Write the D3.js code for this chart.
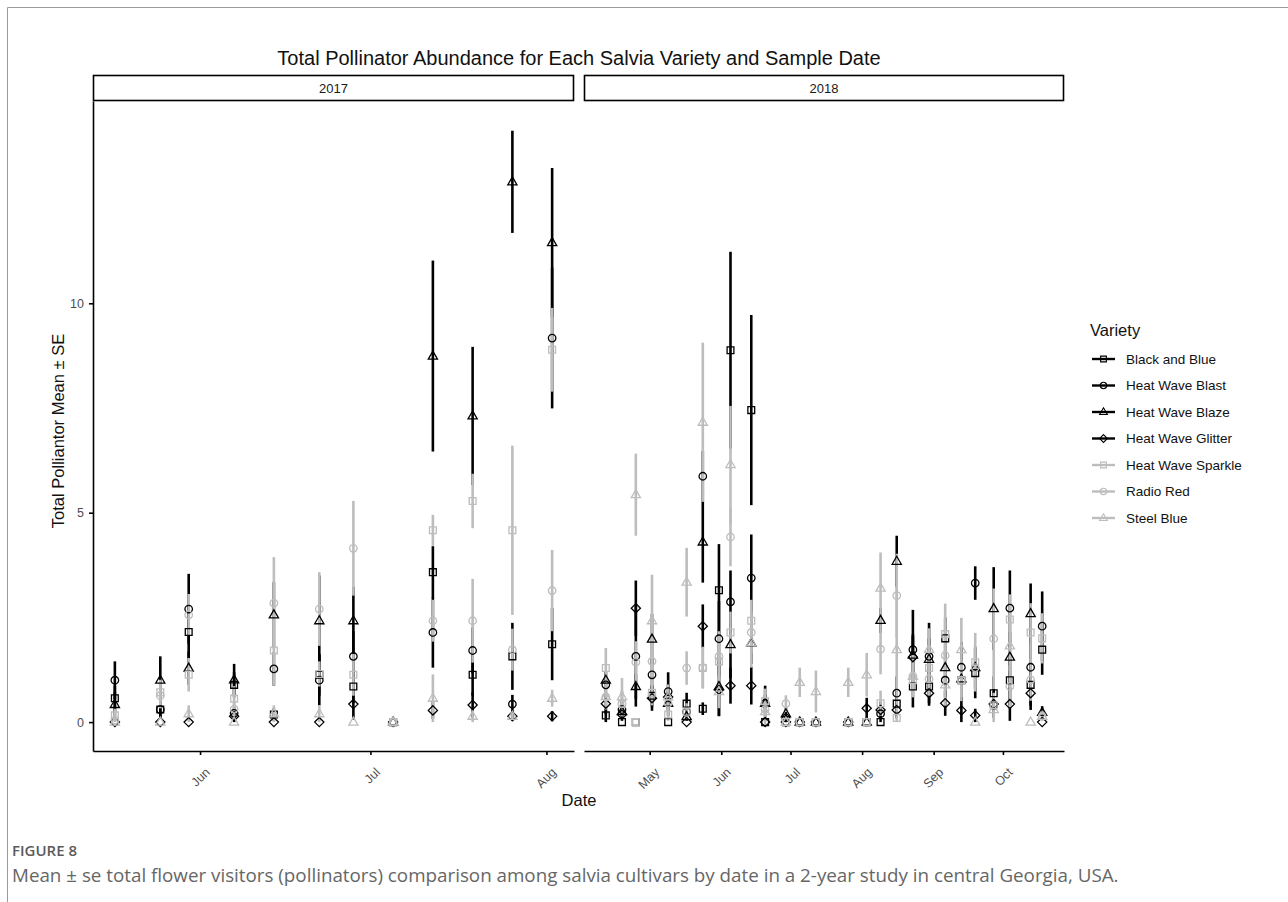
<!DOCTYPE html>
<html>
<head>
<meta charset="utf-8">
<script src="https://cdn.jsdelivr.net/npm/d3@7"></script>
<style>
  body { margin: 0; background: #fff; }
  text { font-family: "Liberation Sans", Arial, sans-serif; }
</style>
</head>
<body>
<svg width="1288" height="902"></svg>
<script>
// ---- data ----
var varieties = ["Black and Blue", "Heat Wave Blast", "Heat Wave Blaze", "Heat Wave Glitter",
                 "Heat Wave Sparkle", "Radio Red", "Steel Blue"];

var dates2017 = ["2017-05-17", "2017-05-25", "2017-05-30", "2017-06-07", "2017-06-14", "2017-06-22",
                 "2017-06-28", "2017-07-05", "2017-07-12", "2017-07-19", "2017-07-26", "2017-08-02"];
var dates2018 = ["2018-04-12", "2018-04-19", "2018-04-25", "2018-05-02", "2018-05-09", "2018-05-17",
                 "2018-05-24", "2018-05-31", "2018-06-05", "2018-06-14", "2018-06-20", "2018-06-29",
                 "2018-07-05", "2018-07-12", "2018-07-26", "2018-08-03", "2018-08-09", "2018-08-16",
                 "2018-08-23", "2018-08-30", "2018-09-06", "2018-09-13", "2018-09-19", "2018-09-27",
                 "2018-10-04", "2018-10-13", "2018-10-18"];

// means: 12 values for 2017 then 27 for 2018
var meanBlackAndBlue = [0.57, 0.30, 2.15, 0.89, 0.18, 1.13, 0.85, 0, 3.58, 1.13, 1.57, 1.86,
  0.16, 0, 0, 0.63, 0, 0.44, 0.32, 3.15, 8.88, 7.45, 0, 0, 0, 0, 0, 0, 0, 0.44, 0.85, 0.85, 2.0, 1.0, 1.17, 0.69, 1.0, 0.89, 1.73];
var seBlackAndBlue = [0.30, 0.20, 0.62, 0.30, 0.15, 0.50, 0.40, 0, 0.62, 0.50, 0.80, 0.86,
  0.16, 0, 0, 0.26, 0, 0.26, 0.15, 1.10, 2.35, 2.27, 0, 0, 0, 0, 0, 0, 0, 0.30, 0.50, 0.40, 0.50, 0.50, 0.60, 0.40, 0.60, 0.50, 0.60];

var meanHeatWaveBlast = [1.0, 0.30, 2.70, 0.21, 1.27, 1.0, 1.57, 0, 2.14, 1.71, 0.43, 9.17,
  0.89, 0.30, 1.57, 1.13, 0.73, 0.25, 5.87, 1.99, 2.87, 3.44, 0.45, 0.10, 0, 0, 0, 0, 0.20, 0.69, 1.73, 1.57, 1.0, 1.31, 3.32, 0.40, 2.72, 1.31, 2.29];
var seHeatWaveBlast = [0.45, 0.20, 0.84, 0.15, 0.40, 0.60, 0.60, 0, 0.84, 0.55, 0.22, 1.68,
  0.30, 0.20, 1.20, 0.40, 0.46, 0.20, 0.60, 0.90, 0.75, 1.04, 0.42, 0.10, 0, 0, 0, 0, 0.20, 0.40, 0.95, 0.80, 0.40, 0.60, 0.40, 0.30, 0.90, 0.70, 0.83];

var meanHeatWaveBlaze = [0.42, 1.0, 1.29, 1.01, 2.56, 2.42, 2.42, 0, 8.74, 7.31, 12.90, 11.45,
  1.0, 0.25, 0.85, 1.98, 0.45, 0.13, 4.30, 0.85, 1.85, 1.89, 0.45, 0.20, 0, 0, 0, 0, 2.43, 3.84, 1.60, 1.50, 1.30, 1.03, 1.30, 2.71, 1.55, 2.59, 0.23];
var seHeatWaveBlaze = [0.30, 0.57, 0.40, 0.38, 0.78, 1.08, 0.81, 0, 2.28, 1.65, 1.22, 1.78,
  0.20, 0.15, 0.30, 0.60, 0.30, 0.10, 0.97, 0.70, 0.80, 0.50, 0.20, 0.15, 0, 0, 0, 0, 0.30, 0.61, 0.50, 0.50, 0.40, 0.50, 0.50, 0.99, 0.60, 0.72, 0.15];

var meanHeatWaveGlitter = [0, 0, 0, 0.14, 0, 0, 0.43, 0, 0.28, 0.41, 0.14, 0.14,
  0.44, 0.18, 2.72, 0.57, 0.60, 0, 2.29, 0.77, 0.87, 0.87, 0, 0, 0, 0, 0, 0.33, 0.29, 0.29, 1.55, 0.69, 0.45, 0.28, 0.16, 0.43, 0.43, 0.69, 0];
var seHeatWaveGlitter = [0, 0, 0, 0.14, 0, 0, 0.37, 0, 0.20, 0.30, 0.10, 0.12,
  0.25, 0.15, 0.66, 0.30, 0.30, 0, 0.52, 0.63, 0.43, 0.45, 0, 0, 0, 0, 0, 0.25, 0.20, 0.20, 0.50, 0.30, 0.30, 0.28, 0.16, 0.30, 0.40, 0.40, 0];

var meanHeatWaveSparkle = [0.16, 0.71, 1.13, 0.56, 1.71, 1.15, 1.13, 0, 4.58, 5.28, 4.58, 8.89,
  1.29, 0.44, 0, 0.70, 0.18, 0.25, 1.29, 1.45, 2.14, 2.42, 0.50, 0, 0, 0, 0, 0, 0.45, 0.10, 1.0, 1.29, 2.10, 1.0, 1.43, 0.40, 2.45, 2.14, 2.0];
var seHeatWaveSparkle = [0.16, 0.30, 0.40, 0.30, 0.84, 0.30, 0.50, 0, 0.37, 0.65, 2.02, 1.0,
  0.48, 0.30, 0, 0.30, 0.15, 0.20, 0.48, 0.50, 0.50, 0.50, 0.30, 0, 0, 0, 0, 0, 0.30, 0.10, 0.40, 0.50, 0.73, 0.40, 0.70, 0.30, 0.60, 0.70, 0.60];

var meanRadioRed = [0.05, 0.63, 2.56, 0.31, 2.84, 2.70, 4.15, 0, 2.42, 2.42, 1.73, 3.14,
  0.60, 0.44, 1.43, 1.45, 0.45, 1.29, 1.30, 1.57, 4.42, 2.14, 0.30, 0.44, 0, 0, 0, 0, 1.74, 3.02, 1.10, 1.03, 1.59, 1.0, 1.30, 1.99, 0.85, 1.01, 0.14];
var seRadioRed = [0.05, 0.30, 0.50, 0.20, 1.10, 0.88, 1.13, 0, 0.50, 1.0, 0.50, 0.97,
  0.30, 0.30, 0.50, 0.60, 0.30, 0.40, 0.50, 0.60, 0.70, 0.50, 0.20, 0.20, 0, 0, 0, 0, 0.60, 1.0, 0.50, 0.40, 0.60, 0.50, 0.50, 1.20, 0.50, 0.50, 0.10];

var meanSteelBlue = [0, 0, 0.20, 0, 0.20, 0.20, 0, 0, 0.57, 0.14, 0.14, 0.57,
  0.61, 0.61, 5.43, 2.42, 0.60, 3.34, 7.16, 0.73, 6.15, 1.90, 0.25, 0, 0.95, 0.73, 0.95, 1.13, 3.20, 1.73, 1.09, 1.74, 0.89, 1.73, 0, 0.30, 1.82, 0, 0.14];
var seSteelBlue = [0, 0, 0.20, 0, 0.20, 0.20, 0, 0, 0.57, 0.14, 0.10, 0.20,
  0.30, 0.44, 0.98, 1.10, 0.30, 0.82, 1.90, 0.40, 1.40, 0.60, 0.30, 0, 0.35, 0.50, 0.35, 0.52, 0.85, 1.50, 0.50, 0.50, 0.50, 0.76, 0, 0.30, 0.60, 0, 0.10];

var yTicks = [0, 5, 10];

// ---- build rows ----
var means = [meanBlackAndBlue, meanHeatWaveBlast, meanHeatWaveBlaze, meanHeatWaveGlitter,
             meanHeatWaveSparkle, meanRadioRed, meanSteelBlue];
var ses = [seBlackAndBlue, seHeatWaveBlast, seHeatWaveBlaze, seHeatWaveGlitter,
           seHeatWaveSparkle, seRadioRed, seSteelBlue];
var parseDate = d3.timeParse("%Y-%m-%d");
var allDates = dates2017.concat(dates2018);
var rows = [];
varieties.forEach(function (v, vi) {
    allDates.forEach(function (ds, di) {
        rows.push({
            variety: v, vi: vi,
            year: ds.slice(0, 4),
            date: parseDate(ds),
            mean: means[vi][di],
            se: ses[vi][di]
        });
    });
});

// ---- styles ----
var color = d3.scaleOrdinal().domain(varieties)
    .range(["#000", "#000", "#000", "#000", "#bdbdbd", "#bdbdbd", "#bdbdbd"]);
var shapeOf = d3.scaleOrdinal().domain(varieties)
    .range(["square", "circle", "triangle", "diamond", "square", "circle", "triangle"]);

function symbolPath(shape) {
    if (shape === "square") return "M-3.4,-3.4h6.8v6.8h-6.8z";
    if (shape === "diamond") return "M0,-4.6L4.6,0L0,4.6L-4.6,0Z";
    if (shape === "circle") return d3.symbol(d3.symbolCircle, 44)();
    return "M0,-5L4.6,3L-4.6,3Z";
}

var svg = d3.select("svg");

// figure frame
svg.append("path")
    .attr("d", "M7.5,902V7.5H1288")
    .attr("fill", "none")
    .attr("stroke", "#9a9a9a")
    .attr("stroke-width", 1);

// title
svg.append("text")
    .attr("x", 579).attr("y", 65)
    .attr("text-anchor", "middle")
    .style("font-size", "20px")
    .attr("fill", "#111")
    .text("Total Pollinator Abundance for Each Salvia Variety and Sample Date");

// y scale shared
var y = d3.scaleLinear().domain([-0.69, 14.83]).range([751, 101]);

var panels = [
    { year: "2017", dates: dates2017, x0: 93, x1: 574 },
    { year: "2018", dates: dates2018, x0: 584, x1: 1064 }
];

panels.forEach(function (p, pi) {
    var ext = d3.extent(p.dates, parseDate);
    var pad = (ext[1] - ext[0]) * 0.05;
    var x = d3.scaleTime()
        .domain([new Date(+ext[0] - pad), new Date(+ext[1] + pad)])
        .range([p.x0, p.x1]);

    // strip
    svg.append("rect")
        .attr("x", p.x0 + 0.5).attr("y", 75.5)
        .attr("width", p.x1 - p.x0 - 1).attr("height", 25)
        .attr("fill", "#fff").attr("stroke", "#000").attr("stroke-width", 1.6);
    svg.append("text")
        .attr("x", (p.x0 + p.x1) / 2).attr("y", 93)
        .attr("text-anchor", "middle")
        .style("font-size", "13px").attr("fill", "#1a1a1a")
        .text(p.year);

    var g = svg.append("g");
    var data = rows.filter(function (d) { return d.year === p.year; });

    // error bars first, then points
    g.selectAll("line.bar")
        .data(data.filter(function (d) { return d.se > 0; }))
        .enter().append("line")
        .attr("class", "bar")
        .attr("x1", function (d) { return x(d.date); })
        .attr("x2", function (d) { return x(d.date); })
        .attr("y1", function (d) { return y(d.mean - d.se); })
        .attr("y2", function (d) { return y(d.mean + d.se); })
        .attr("stroke", function (d) { return color(d.variety); })
        .attr("stroke-width", 2.6);

    g.selectAll("path.pt")
        .data(data)
        .enter().append("path")
        .attr("class", "pt")
        .attr("transform", function (d) { return "translate(" + x(d.date) + "," + y(d.mean) + ")"; })
        .attr("d", function (d) { return symbolPath(shapeOf(d.variety)); })
        .attr("fill", "none")
        .attr("stroke", function (d) { return color(d.variety); })
        .attr("stroke-width", 1.3);

    // x axis
    var months = d3.timeMonth.range(d3.timeMonth.ceil(x.domain()[0]), x.domain()[1]);
    var xAxis = svg.append("g")
        .attr("transform", "translate(0,751)")
        .call(d3.axisBottom(x).tickValues(months).tickFormat(d3.timeFormat("%b"))
            .tickSize(4).tickSizeOuter(0));
    xAxis.select(".domain").attr("stroke-width", 1.6);
    xAxis.selectAll(".tick line").attr("stroke-width", 1.6);
    xAxis.selectAll(".tick text")
        .attr("fill", "#4d4d4d")
        .style("font-size", "12.5px")
        .style("font-family", "'Liberation Sans', Arial, sans-serif")
        .attr("text-anchor", "end")
        .attr("x", 0).attr("y", 0).attr("dx", 0).attr("dy", 0)
        .attr("transform", "translate(10,22) rotate(-45)");

    if (pi === 0) {
        var yAxis = svg.append("g")
            .attr("transform", "translate(" + p.x0 + ",0)")
            .call(d3.axisLeft(y).tickValues(yTicks).tickSize(4).tickSizeOuter(0));
        yAxis.select(".domain").attr("stroke-width", 1.6);
        yAxis.selectAll(".tick line").attr("stroke-width", 1.6);
        yAxis.selectAll(".tick text")
            .attr("fill", "#4d4d4d")
            .attr("x", -9)
            .style("font-size", "12.5px")
            .style("font-family", "'Liberation Sans', Arial, sans-serif");
    }
});

// axis titles
svg.append("text")
    .attr("x", 579).attr("y", 806)
    .attr("text-anchor", "middle")
    .style("font-size", "16.5px").attr("fill", "#111")
    .text("Date");
svg.append("text")
    .attr("transform", "translate(64,431) rotate(-90)")
    .attr("text-anchor", "middle")
    .style("font-size", "16.5px").attr("fill", "#111")
    .text("Total Polliantor Mean \u00b1 SE");

// legend
var legend = svg.append("g").attr("transform", "translate(1090,0)");
legend.append("text")
    .attr("x", 0).attr("y", 336)
    .style("font-size", "16.5px").attr("fill", "#111")
    .text("Variety");
var item = legend.selectAll("g.item")
    .data(varieties)
    .enter().append("g")
    .attr("class", "item")
    .attr("transform", function (d, i) { return "translate(0," + (359 + i * 26.5) + ")"; });
item.append("line")
    .attr("x1", 2).attr("x2", 25)
    .attr("stroke", function (d) { return color(d); })
    .attr("stroke-width", 2.4);
item.append("path")
    .attr("transform", "translate(13.5,0) scale(0.85)")
    .attr("d", function (d) { return symbolPath(shapeOf(d)); })
    .attr("fill", "none")
    .attr("stroke", function (d) { return color(d); })
    .attr("stroke-width", 1.3);
item.append("text")
    .attr("x", 36).attr("y", 4.5)
    .style("font-size", "13.5px").attr("fill", "#111")
    .text(function (d) { return d; });

// caption
svg.append("text")
    .attr("x", 12).attr("y", 856)
    .style("font-family", "'Open Sans', 'Noto Sans', sans-serif")
    .style("font-size", "15px").style("font-weight", "600")
    .attr("fill", "#5a5a5a")
    .text("FIGURE 8");
svg.append("text")
    .attr("x", 12).attr("y", 882)
    .style("font-family", "'Open Sans', 'Noto Sans', sans-serif")
    .style("font-size", "18.8px")
    .attr("fill", "#666")
    .text("Mean \u00b1 se total flower visitors (pollinators) comparison among salvia cultivars by date in a 2-year study in central Georgia, USA.");
</script>
</body>
</html>
